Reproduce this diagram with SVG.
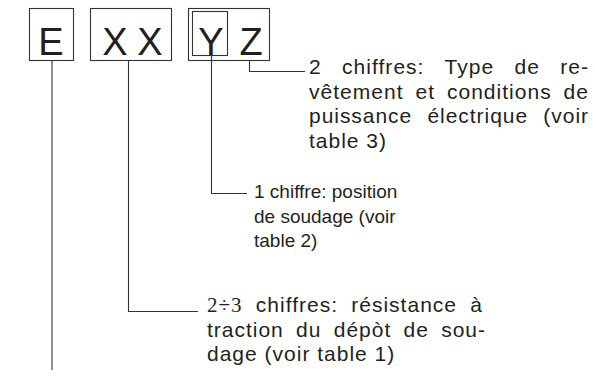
<svg xmlns="http://www.w3.org/2000/svg" width="595" height="376" viewBox="0 0 595 376">
<style>
.box{fill:none;stroke:#333;stroke-width:1.1}
.big{font-family:"Liberation Sans",Arial,sans-serif;font-size:38px;fill:#231f20;text-anchor:middle}
.t{font-family:"Liberation Sans",Arial,sans-serif;font-size:19px;fill:#231f20}
.w{font-family:"Liberation Sans",Arial,sans-serif;font-size:21px;letter-spacing:1px;fill:#231f20}
.serif{font-family:"Liberation Serif","Times New Roman",serif}
.conn path{fill:none;stroke:#333;stroke-width:1.1}
</style>
<rect width="595" height="376" fill="#fff"/>
<g id="node-E">
<rect class="box" x="29.5" y="8.5" width="44" height="52"/>
<text class="big" x="51" y="55">E</text>
</g>
<g id="node-XX">
<rect class="box" x="90.5" y="8.5" width="81" height="52"/>
<text class="big" x="115" y="55">X</text>
<text class="big" x="150" y="55">X</text>
</g>
<g id="node-YZ">
<rect class="box" x="188.5" y="8.5" width="81" height="52"/>
<rect class="box" x="192.5" y="11.5" width="35" height="44"/>
<text class="big" x="211" y="55">Y</text>
<text class="big" x="251" y="55">Z</text>
</g>
<g class="conn" id="connectors">
<path d="M52 61 V370"/>
<path d="M128.5 61 V311.5 H198"/>
<path d="M211.5 56 V193.5 H247"/>
<path d="M249.5 61 V71.5 H305"/>
</g>
<g id="label-Z">
<text class="w" x="309" y="74" word-spacing="13.5" textLength="280" lengthAdjust="spacing">2 chiffres: Type de re-</text>
<text class="w" x="309" y="98.5" word-spacing="5" textLength="280" lengthAdjust="spacing">vêtement et conditions de</text>
<text class="w" x="309" y="123" word-spacing="8.5" textLength="280" lengthAdjust="spacing">puissance électrique (voir</text>
<text class="w" x="309" y="147.5">table 3)</text>
</g>
<g id="label-Y">
<text class="t" x="254" y="198">1 chiffre: position</text>
<text class="t" x="254" y="222.5">de soudage (voir</text>
<text class="t" x="254" y="247">table 2)</text>
</g>
<g id="label-XX">
<text class="w" x="207" y="312" word-spacing="6.5" textLength="276" lengthAdjust="spacing"><tspan class="serif">2÷3</tspan> chiffres: résistance à</text>
<text class="w" x="207" y="336.5" word-spacing="5.5" textLength="279" lengthAdjust="spacing">traction du dépòt de sou-</text>
<text class="w" x="207" y="361">dage (voir table 1)</text>
</g>
<g id="label-E">
<text class="t" x="52" y="389">électrode</text>
</g>
</svg>
